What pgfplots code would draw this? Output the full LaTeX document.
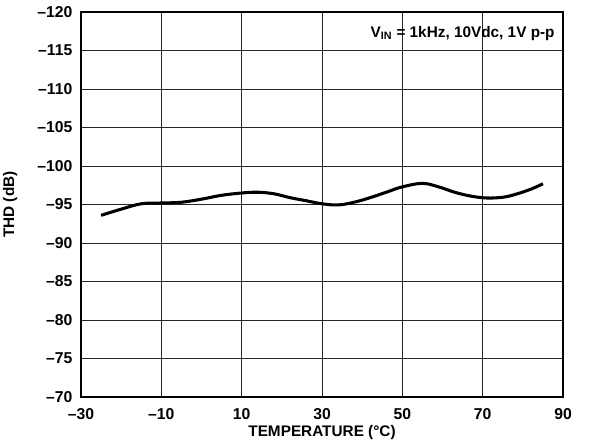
\documentclass[border=0pt]{standalone}
\usepackage{fontspec}
\setmainfont{Liberation Sans}
\usepackage{pgfplots}
\pgfplotsset{compat=1.18}
\begin{document}
\begin{tikzpicture}
\begin{axis}[
  width=361.5pt, height=288.75pt, scale only axis,
  xmin=-30, xmax=90, ymin=-120, ymax=-70,
  y dir=reverse,
  xtick={-30,-10,10,30,50,70,90},
  xticklabels={–30,–10,10,30,50,70,90},
  ytick={-120,-115,-110,-105,-100,-95,-90,-85,-80,-75,-70},
  yticklabels={–120,–115,–110,–105,–100,–95,–90,–85,–80,–75,–70},
  grid=major,
  major grid style={line width=0.75pt, draw=black!85},
  major tick length=0pt,
  axis line style={line width=1.5pt},
  tick label style={font=\fontsize{11.8}{13}\selectfont\bfseries},
  xticklabel style={yshift=-5pt},
  yticklabel style={xshift=-3pt},
  label style={font=\fontsize{11.5}{13}\selectfont\bfseries},
  xlabel={TEMPERATURE (°C)},
  ylabel={THD (dB)},
  xlabel style={at={(rel axis cs:0.5,-0.091)}, anchor=center},
  ylabel style={at={(rel axis cs:-0.147,0.5)}, anchor=center},
  clip=false,
]
\addplot[black, line width=2.3pt, smooth, tension=0.6] coordinates {
(-25,-93.6) (-20,-94.4) (-15,-95.1) (-10,-95.2) (-5,-95.3) (0,-95.7)
(5,-96.2) (10,-96.5) (14,-96.6) (18,-96.4) (22,-95.9) (26,-95.5)
(30,-95.1) (34,-94.95) (38,-95.3) (42,-95.9) (46,-96.6) (50,-97.3)
(55,-97.75) (59,-97.3) (63,-96.6) (67,-96.1) (71,-95.85) (75,-95.95)
(78,-96.3) (82,-97.0) (85,-97.7)
};
\node[anchor=east, font=\fontsize{11.5}{13}\selectfont\bfseries, inner sep=0pt]
  at (rel axis cs:0.983,0.945) {V\textsubscript{IN} = 1kHz, 10Vdc, 1V p-p};
\coordinate (BBa) at (rel axis cs:-0.168,-0.1247);
\coordinate (BBb) at (rel axis cs:1.060,1.0312);
\end{axis}
\pgfresetboundingbox
\path (BBa) rectangle (BBb);
\end{tikzpicture}
\end{document}
